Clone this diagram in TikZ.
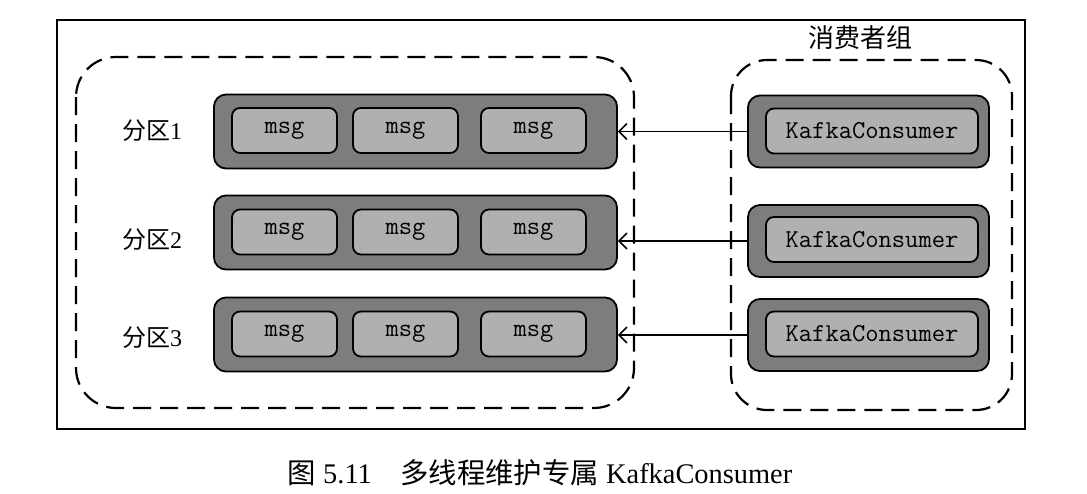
\documentclass[tikz,border=0pt]{standalone}
\usepackage{fontspec}
\setmainfont{Liberation Serif}
\newfontfamily\cjk{Noto Sans CJK SC}
\usetikzlibrary{arrows.meta}

\definecolor{darkbox}{RGB}{125,125,125}
\definecolor{lightbox}{RGB}{176,176,176}

\tikzset{
  partbox/.style={draw=black, line width=0.9pt, fill=darkbox, rounded corners=6pt,
    minimum width=201.5pt, minimum height=37pt, inner sep=0pt},
  msgbox/.style={draw=black, line width=0.9pt, fill=lightbox, rounded corners=4pt,
    minimum width=52.5pt, minimum height=22.5pt, inner sep=0pt,
    font=\ttfamily\fontsize{12.9}{14}\selectfont},
  consbox/.style={draw=black, line width=0.9pt, fill=darkbox, rounded corners=6pt,
    minimum width=120.5pt, minimum height=36pt, inner sep=0pt},
  consinner/.style={draw=black, line width=0.9pt, fill=lightbox, rounded corners=4pt,
    minimum width=106pt, minimum height=22.5pt, inner sep=0pt,
    font=\ttfamily\fontsize{12.9}{14}\selectfont},
  grp/.style={dash pattern=on 9pt off 4.5pt, line width=1.1pt},
  partlabel/.style={inner sep=0pt, font=\fontsize{12}{14}\selectfont},
  arr/.style={line width=0.75pt, -{Straight Barb[length=4pt,width=8pt]}}
}

\begin{document}
\begin{tikzpicture}[x=0.5pt,y=-0.5pt]
\useasboundingbox (0,0) rectangle (1087,493);

% outer frame
\draw [line width=1pt] (57,20) rectangle (1025,429);
% partition group and consumer group
\draw [grp, rounded corners=20pt] (76,57) rectangle (634,408);
\draw [grp, rounded corners=18pt] (731,60) rectangle (1012,410);
\node [inner sep=0pt, font=\cjk\fontsize{13}{15}\selectfont] (grplabel) at (860,38) {消费者组};

% partition 1
\node [partbox] (p1) at (415.5,131.5) {};
\node [msgbox] (m11) at (284.5,130.5) {msg};
\node [msgbox] (m12) at (405.5,130.5) {msg};
\node [msgbox] (m13) at (533.5,130.5) {msg};
\node [partlabel] (l1) at (152,131) {{\cjk 分区}1};
% partition 2
\node [partbox] (p2) at (415.5,232.5) {};
\node [msgbox] (m21) at (284.5,232) {msg};
\node [msgbox] (m22) at (405.5,232) {msg};
\node [msgbox] (m23) at (533.5,232) {msg};
\node [partlabel] (l2) at (152,240) {{\cjk 分区}2};
% partition 3
\node [partbox] (p3) at (415.5,334.5) {};
\node [msgbox] (m31) at (284.5,334) {msg};
\node [msgbox] (m32) at (405.5,334) {msg};
\node [msgbox] (m33) at (533.5,334) {msg};
\node [partlabel] (l3) at (152,338) {{\cjk 分区}3};

% consumers
\node [consbox] (c1) at (868.5,131.5) {};
\node [consinner] (k1) at (872,131) {KafkaConsumer};
\node [consbox] (c2) at (868.5,241) {};
\node [consinner] (k2) at (872,239.5) {KafkaConsumer};
\node [consbox] (c3) at (868.5,335) {};
\node [consinner] (k3) at (872,334) {KafkaConsumer};

% arrows
\draw [arr] (c1.west) -- (c1.west -| p1.east);
\draw [arr] (c2.west) -- (c2.west -| p2.east);
\draw [arr] (c3.west) -- (c3.west -| p3.east);

% caption
\node [inner sep=0pt, anchor=base, font=\fontsize{14.2}{16}\selectfont] (cap) at (540,483)
  {{\cjk 图} 5.11\quad{\cjk 多线程维护专属} KafkaConsumer};

\end{tikzpicture}
\end{document}
